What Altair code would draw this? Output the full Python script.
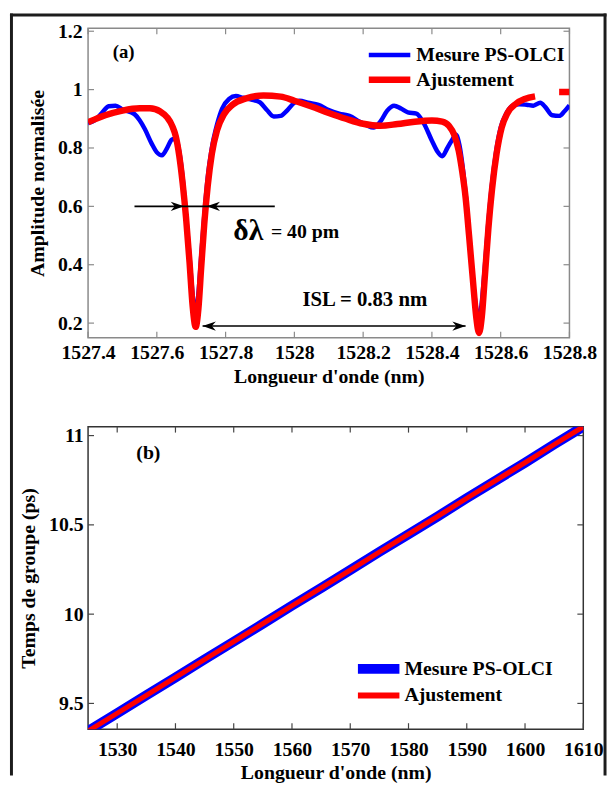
import altair as alt
import pandas as pd

FONT = "Liberation Serif"
BLUE = "#0000ff"
RED = "#ff0000"

# ---------------- Panel (a) data ----------------
a_meas_x = [1527.40, 1527.42, 1527.44, 1527.46, 1527.48, 1527.50, 1527.535, 1527.55, 1527.565,
            1527.585, 1527.60, 1527.615, 1527.63, 1527.645, 1527.655, 1527.665, 1527.675,
            1527.685, 1527.695, 1527.704, 1527.712, 1527.72, 1527.729, 1527.738, 1527.748,
            1527.76, 1527.775, 1527.79, 1527.81, 1527.83, 1527.85, 1527.875, 1527.90,
            1527.92, 1527.94, 1527.96, 1527.98, 1528.00, 1528.015, 1528.04, 1528.07, 1528.10,
            1528.13, 1528.16, 1528.19, 1528.21, 1528.23, 1528.25, 1528.27, 1528.29, 1528.31,
            1528.33, 1528.355, 1528.375, 1528.40, 1528.415, 1528.43, 1528.445, 1528.46,
            1528.47, 1528.48, 1528.49, 1528.50, 1528.51, 1528.52, 1528.529, 1528.536,
            1528.544, 1528.553, 1528.563, 1528.574, 1528.587, 1528.60, 1528.615, 1528.635,
            1528.655, 1528.675, 1528.695, 1528.715, 1528.73, 1528.75, 1528.77, 1528.785,
            1528.80]
a_meas_y = [0.885, 0.895, 0.92, 0.943, 0.945, 0.932, 0.916, 0.895, 0.865,
            0.815, 0.785, 0.775, 0.80, 0.83, 0.83, 0.79, 0.70,
            0.57, 0.43, 0.30, 0.23, 0.29, 0.43, 0.57, 0.70,
            0.80, 0.88, 0.935, 0.968, 0.978, 0.972, 0.966, 0.956,
            0.93, 0.908, 0.91, 0.93, 0.955, 0.962, 0.955, 0.948, 0.93,
            0.918, 0.91, 0.89, 0.878, 0.87, 0.89, 0.928, 0.945, 0.935,
            0.922, 0.918, 0.888, 0.825, 0.79, 0.772, 0.80, 0.83,
            0.845, 0.81, 0.73, 0.62, 0.48, 0.34, 0.25, 0.21,
            0.26, 0.38, 0.53, 0.67, 0.79, 0.87, 0.915, 0.945,
            0.95, 0.948, 0.945, 0.955, 0.94, 0.912, 0.91, 0.925,
            0.946]

a_fit_x = [1527.40, 1527.45, 1527.50, 1527.55, 1527.58, 1527.61, 1527.63, 1527.645, 1527.655,
           1527.665, 1527.675, 1527.685, 1527.695, 1527.704, 1527.713, 1527.721, 1527.729,
           1527.738, 1527.748, 1527.76, 1527.775, 1527.795, 1527.82, 1527.86, 1527.91,
           1527.96, 1528.00, 1528.05, 1528.10, 1528.15, 1528.20, 1528.25, 1528.30, 1528.35,
           1528.40, 1528.43, 1528.45, 1528.465, 1528.478, 1528.488, 1528.498, 1528.508,
           1528.519, 1528.529, 1528.537, 1528.545, 1528.554, 1528.564, 1528.575, 1528.588,
           1528.603, 1528.62, 1528.645, 1528.67, 1528.70,
           1528.77, 1528.80]
a_fit_y = [0.888, 0.912, 0.928, 0.936, 0.936, 0.925, 0.905, 0.875, 0.84,
           0.775, 0.68, 0.56, 0.41, 0.26, 0.187, 0.25, 0.39,
           0.54, 0.67, 0.78, 0.86, 0.915, 0.948, 0.970, 0.98,
           0.976, 0.962, 0.942, 0.92, 0.90, 0.883, 0.876, 0.882, 0.89,
           0.894, 0.89, 0.875, 0.845, 0.79, 0.72, 0.63, 0.50,
           0.35, 0.22, 0.166, 0.22, 0.36, 0.52, 0.66, 0.78,
           0.87, 0.92, 0.952, 0.968, 0.977,
           0.992, 0.992]
a_fit_seg = [0] * 55 + [1, 1]

a_xticks = [1527.4, 1527.6, 1527.8, 1528.0, 1528.2, 1528.4, 1528.6, 1528.8]
a_yticks = [0.2, 0.4, 0.6, 0.8, 1.0, 1.2]

# annotation positions (data units)
dl_line_x = [1527.535, 1527.943]
dl_y = 0.6
dl_heads_x = [1527.679, 1527.745]
isl_line_x = [1527.733, 1528.498]
isl_y = 0.19

# ---------------- Panel (b) data ----------------
b_x = [1525, 1530, 1535, 1540, 1545, 1550, 1555, 1560, 1565, 1570, 1575, 1580, 1585,
       1590, 1595, 1600, 1605, 1610]
b_meas = [9.345, 9.445, 9.546, 9.645, 9.747, 9.846, 9.946, 10.048, 10.147, 10.247, 10.349,
          10.448, 10.547, 10.650, 10.749, 10.848, 10.951, 11.050]
b_fit = [9.345, 9.445, 9.545, 9.646, 9.746, 9.846, 9.947, 10.047, 10.147, 10.247, 10.348,
         10.448, 10.548, 10.649, 10.749, 10.849, 10.950, 11.050]
b_xticks = [1530, 1540, 1550, 1560, 1570, 1580, 1590, 1600, 1610]
b_yticks = [9.5, 10.0, 10.5, 11.0]

# ---------------- sizes ----------------
WA, HA = 487, 313
WB, HB = 501, 306
TICK = 6

one = pd.DataFrame({"k": [0]})


def axis(values, title, pad, tpad):
    return alt.Axis(values=values, format="~g", domain=False, ticks=False, grid=False,
                    labelFont=FONT, labelFontSize=20, labelFontWeight="bold",
                    labelColor="black", labelPadding=pad, labelFlush=False,
                    labelOverlap=False, title=title, titleFont=FONT, titleFontSize=20,
                    titleFontWeight="bold", titleColor="black", titlePadding=tpad)


def inward_ticks(xs, ys, xt, yt, W, H, color):
    dx = pd.DataFrame({"v": xt})
    dy = pd.DataFrame({"v": yt})
    layers = []
    for (a, b) in [(H, H - TICK), (0, TICK)]:
        layers.append(alt.Chart(dx).mark_rule(color=color, strokeWidth=1.2).encode(
            x=alt.X("v:Q", scale=xs), y=alt.value(a), y2=alt.value(b)))
    for (a, b) in [(0, TICK), (W, W - TICK)]:
        layers.append(alt.Chart(dy).mark_rule(color=color, strokeWidth=1.2).encode(
            y=alt.Y("v:Q", scale=ys), x=alt.value(a), x2=alt.value(b)))
    return layers


def text(t, x, y, size, align="left"):
    return alt.Chart(one).mark_text(text=t, font=FONT, fontSize=size, fontWeight="bold",
                                    color="black", align=align, baseline="middle").encode(
        x=alt.value(x), y=alt.value(y))


def hline(x1, x2, y, color, w):
    return alt.Chart(one).mark_rule(color=color, strokeWidth=w).encode(
        x=alt.value(x1), x2=alt.value(x2), y=alt.value(y))


def box(x1, x2, y1, y2, color):
    return alt.Chart(one).mark_rect(color=color, strokeWidth=0).encode(
        x=alt.value(x1), x2=alt.value(x2), y=alt.value(y1), y2=alt.value(y2))


# ---------------- Panel (a) ----------------
xsa = alt.Scale(domain=[1527.4, 1528.8], nice=False, zero=False)
ysa = alt.Scale(domain=[0.15, 1.21], nice=False, zero=False)

meas_a = pd.DataFrame({"x": a_meas_x, "y": a_meas_y})
fit_a = pd.DataFrame({"x": a_fit_x, "y": a_fit_y, "seg": a_fit_seg})

blue_a = alt.Chart(meas_a).mark_line(color=BLUE, strokeWidth=4.5, clip=True,
                                     interpolate="monotone").encode(
    x=alt.X("x:Q", scale=xsa, axis=axis(a_xticks, "Longueur d'onde (nm)", 5, 4)),
    y=alt.Y("y:Q", scale=ysa, axis=axis(a_yticks, "Amplitude normalisée", 6, 10)))
red_a = alt.Chart(fit_a).mark_line(color=RED, strokeWidth=6.5, clip=True,
                                   interpolate="monotone").encode(
    x=alt.X("x:Q", scale=xsa), y=alt.Y("y:Q", scale=ysa), detail="seg:N")

dl_df = pd.DataFrame({"x": [dl_line_x[0]], "x2": [dl_line_x[1]], "y": [dl_y]})
dl_line = alt.Chart(dl_df).mark_rule(color="black", strokeWidth=1.6).encode(
    x=alt.X("x:Q", scale=xsa), x2="x2:Q", y=alt.Y("y:Q", scale=ysa))
isl_df = pd.DataFrame({"x": [isl_line_x[0]], "x2": [isl_line_x[1]], "y": [isl_y]})
isl_line = alt.Chart(isl_df).mark_rule(color="black", strokeWidth=1.6).encode(
    x=alt.X("x:Q", scale=xsa), x2="x2:Q", y=alt.Y("y:Q", scale=ysa))

RIGHT_HEAD = "M0,0 L-2,-0.7 L-1.4,0 L-2,0.7 Z"
LEFT_HEAD = "M0,0 L2,-0.7 L1.4,0 L2,0.7 Z"


def head(x, y, shape):
    return alt.Chart(pd.DataFrame({"x": [x], "y": [y]})).mark_point(
        shape=shape, filled=True, color="black", size=180, opacity=1).encode(
        x=alt.X("x:Q", scale=xsa), y=alt.Y("y:Q", scale=ysa))


heads = [head(dl_heads_x[0], dl_y, RIGHT_HEAD), head(dl_heads_x[1], dl_y, LEFT_HEAD),
         head(isl_line_x[0], isl_y, LEFT_HEAD), head(isl_line_x[1], isl_y, RIGHT_HEAD)]

# frame around the whole figure (pixel offsets from panel (a) plot origin)
FR = "#1c1c1c"
frame = [
    box(-79, -76, -15, 756, FR),     # left
    box(521.5, 524.5, -15, 756, FR),  # right
    box(-79, 524.5, -15, -12, FR),    # top
]

chart_a = alt.layer(
    *frame,
    *inward_ticks(xsa, ysa, a_xticks, a_yticks, WA, HA, "#8a8a8a"),
    blue_a, red_a, dl_line, isl_line, *heads,
    text("(a)", 36, 24, 19, "center"),
    text("δλ", 147, 205, 30),
    text("= 40 pm", 185, 206, 20),
    text("ISL = 0.83 nm", 280, 275, 21, "center"),
    hline(284, 326, 27, BLUE, 4.5),
    hline(284, 326, 52, RED, 6.5),
    text("Mesure PS-OLCI", 332, 27, 20),
    text("Ajustement", 332, 52, 20),
).properties(width=WA, height=HA,
             view=alt.ViewBackground(stroke="#8a8a8a", strokeWidth=1.5))

# ---------------- Panel (b) ----------------
xsb = alt.Scale(domain=[1525, 1610], nice=False, zero=False)
ysb = alt.Scale(domain=[9.356, 11.05], nice=False, zero=False)

dfb = pd.DataFrame({"x": b_x, "m": b_meas, "f": b_fit})
blue_b = alt.Chart(dfb).mark_line(color=BLUE, strokeWidth=10, clip=True).encode(
    x=alt.X("x:Q", scale=xsb, axis=axis(b_xticks, "Longueur d'onde (nm)", 11, 3)),
    y=alt.Y("m:Q", scale=ysb, axis=axis(b_yticks, "Temps de groupe (ps)", 5, 10)))
red_b = alt.Chart(dfb).mark_line(color=RED, strokeWidth=5, clip=True).encode(
    x=alt.X("x:Q", scale=xsb), y=alt.Y("f:Q", scale=ysb))

chart_b = alt.layer(
    *inward_ticks(xsb, ysb, b_xticks, b_yticks, WB, HB, "#444444"),
    blue_b, red_b,
    text("(b)", 61, 27, 20, "center"),
    hline(273, 315, 245, BLUE, 10),
    hline(273, 315, 272, RED, 6),
    text("Mesure PS-OLCI", 320, 245, 20),
    text("Ajustement", 320, 272, 20),
).properties(width=WB, height=HB,
             view=alt.ViewBackground(stroke="#333333", strokeWidth=1.5))

chart = alt.vconcat(chart_a, chart_b, spacing=90, bounds="flush").properties(
    padding={"left": 1, "top": 0, "right": 0, "bottom": 0},
    background="white",
).configure(font=FONT)

chart.save("out.html", embed_options={"renderer": "svg", "actions": False})
